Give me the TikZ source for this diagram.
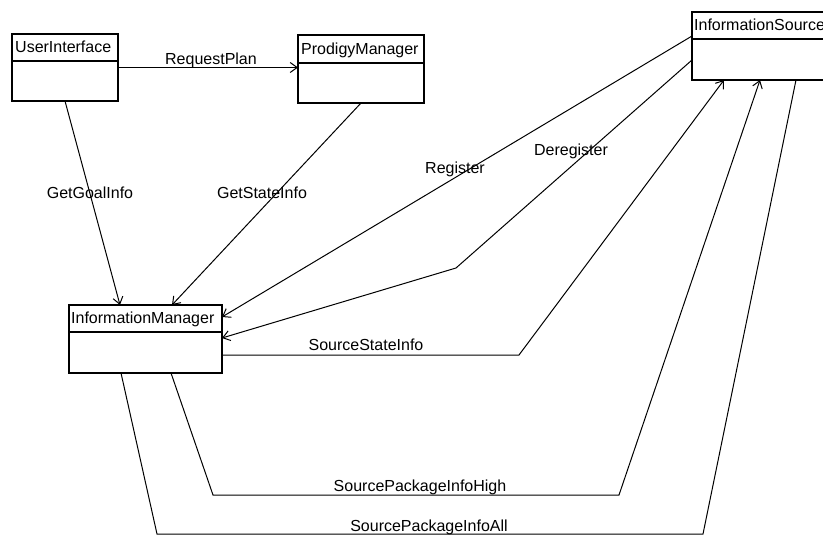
\documentclass[tikz,border=0pt]{standalone}
\usepackage{fontspec}
\setmainfont{Liberation Sans}
\usetikzlibrary{positioning,calc,arrows.meta}

\begin{document}
\begin{tikzpicture}[x=1pt,y=-1pt,
    every node/.style={font=\fontsize{16}{19}\selectfont},
    classbox/.style={draw,line width=1.4pt,anchor=north west,inner sep=0pt,outer sep=0pt},
    classname/.style={anchor=base west,inner sep=0pt},
    lbl/.style={inner sep=0pt,text height=11.5pt,text depth=0pt},
    assoc/.style={line width=1pt},
    navi/.style={assoc,-{Straight Barb[length=7pt,width=10pt]}}]
  \clip (0,0) rectangle (823,535);

  % classes
  \node[classbox,minimum width=106pt,minimum height=67pt] (UI) at (12,34) {};
  \node[classbox,minimum width=126pt,minimum height=68pt] (PM) at (298,35) {};
  \node[classbox,minimum width=153pt,minimum height=68pt] (IM) at (69,305) {};
  \node[classbox,minimum width=180pt,minimum height=68pt] (IS) at (692,12) {};
  \foreach \c/\d in {UI/27,PM/28,IM/27,IS/27}
    \draw[line width=1.4pt] ([yshift=-\d pt]\c.north west) -- ([yshift=-\d pt]\c.north east);
  \node[classname] (UIname) at ([xshift=3pt,yshift=-19pt]UI.north west) {UserInterface};
  \node[classname] (PMname) at ([xshift=3pt,yshift=-20pt]PM.north west) {ProdigyManager};
  \node[classname] (IMname) at ([xshift=2pt,yshift=-18pt]IM.north west) {InformationManager};
  \node[classname] (ISname) at ([xshift=2pt,yshift=-19pt]IS.north west) {InformationSource};

  % bends
  \coordinate (dereg) at (456,268);
  \coordinate (ssi) at (519,355);
  \coordinate (spiA) at (213,495);
  \coordinate (spiB) at (619,495);
  \coordinate (allA) at (157,534);
  \coordinate (allB) at (703,534);

  \draw[navi] (UI.east) -- (UI.east -| PM.west);
  \draw[navi] ([xshift=53pt]UI.south west) -- ([xshift=51pt]IM.north west);
  \draw[navi] ([xshift=63pt]PM.south west) -- ([xshift=103pt]IM.north west);
  \draw[navi] ([yshift=-24pt]IS.north west) -- ([yshift=-12pt]IM.north east);
  \draw[navi] ([yshift=-48pt]IS.north west) -- (dereg) -- ([yshift=-33pt]IM.north east);
  \draw[navi] ([yshift=-50pt]IM.north east) -- (ssi) -- ([xshift=32pt]IS.south west);
  \draw[navi] ([xshift=102pt]IM.south west) -- (spiA) -- (spiB) -- ([xshift=68pt]IS.south west);
  \draw[assoc] ([xshift=52pt]IM.south west) -- (allA) -- (allB) -- ([xshift=104pt]IS.south west);

  % labels
  \node[lbl] (reqplan) at (211,59) {RequestPlan};
  \node[lbl] (goal) at (90,193) {GetGoalInfo};
  \node[lbl] (state) at (262,193) {GetStateInfo};
  \node[lbl] (reg) at (455,168) {Register};
  \node[lbl] (dereglbl) at (571,150) {Deregister};
  \node[lbl] (srcstate) at (366,345) {SourceStateInfo};
  \node[lbl] (pkghigh) at (420,486) {SourcePackageInfoHigh};
  \node[lbl] (pkgall) at (429,526) {SourcePackageInfoAll};
\end{tikzpicture}
\end{document}
